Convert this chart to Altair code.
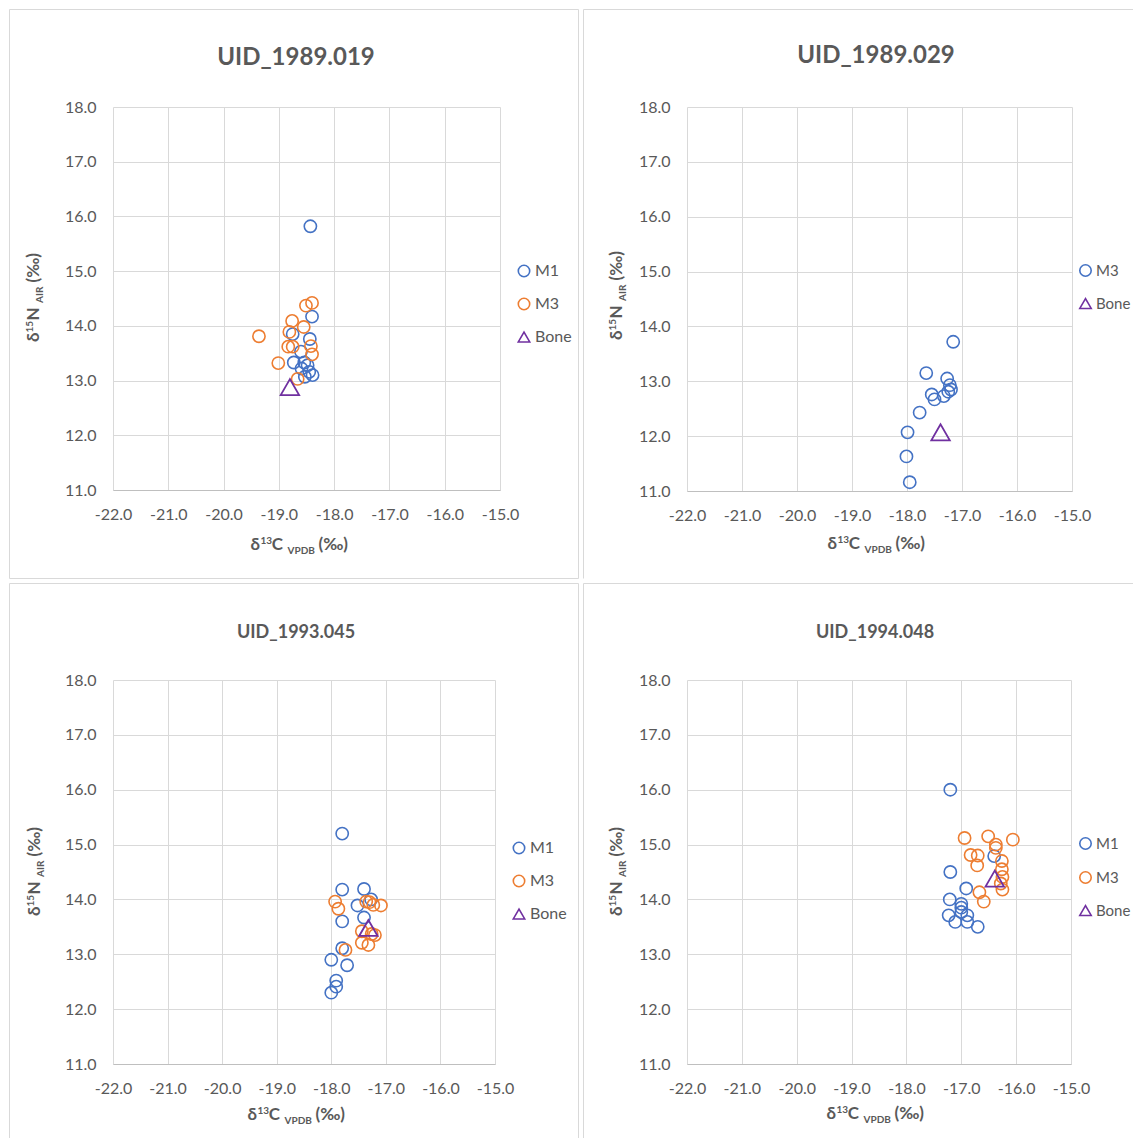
import altair as alt
import pandas as pd

BLUE = "#4472C4"
ORANGE = "#ED7D31"
PURPLE = "#7030A0"
TXT = "#595959"
FONT = "Lato"
FRAME = "#d9d9d9"

# ---------------- data ----------------
titles = ["UID_1989.019", "UID_1989.029", "UID_1993.045", "UID_1994.048"]

p1_m1_x = [-18.43, -18.40, -18.44, -18.75, -18.60, -18.73, -18.54, -18.48, -18.59, -18.45, -18.39, -18.53]
p1_m1_y = [15.82, 14.17, 13.76, 13.85, 13.53, 13.33, 13.33, 13.28, 13.22, 13.16, 13.10, 13.07]
p1_m3_x = [-18.51, -18.40, -18.76, -18.55, -18.81, -19.36, -18.83, -18.75, -18.42, -18.40, -19.01, -18.66]
p1_m3_y = [14.37, 14.42, 14.09, 13.98, 13.89, 13.81, 13.62, 13.62, 13.63, 13.48, 13.32, 13.03]
p1_bone = (-18.80, 12.88)

p2_m3_x = [-17.16, -17.65, -17.27, -17.22, -17.20, -17.25, -17.33, -17.55, -17.50, -17.77, -17.99, -18.01, -17.95]
p2_m3_y = [13.72, 13.15, 13.05, 12.93, 12.85, 12.81, 12.73, 12.76, 12.67, 12.43, 12.07, 11.63, 11.16]
p2_bone = (-17.39, 12.07)

p3_m1_x = [-17.80, -17.80, -17.40, -17.27, -17.52, -17.80, -17.40, -17.80, -18.00, -17.71, -17.91, -17.91, -18.00]
p3_m1_y = [15.20, 14.18, 14.19, 14.00, 13.89, 13.60, 13.67, 13.11, 12.90, 12.80, 12.52, 12.41, 12.30]
p3_m3_x = [-17.93, -17.87, -17.36, -17.23, -17.09, -17.30, -17.44, -17.26, -17.20, -17.44, -17.32, -17.74]
p3_m3_y = [13.96, 13.83, 13.96, 13.90, 13.89, 13.95, 13.42, 13.37, 13.35, 13.21, 13.17, 13.08]
p3_bone = (-17.32, 13.48)

p4_m1_x = [-17.20, -16.40, -17.20, -16.91, -17.21, -17.00, -17.00, -17.00, -17.23, -16.89, -17.11, -16.89, -16.70]
p4_m1_y = [16.00, 14.79, 14.50, 14.20, 14.00, 13.92, 13.85, 13.77, 13.71, 13.71, 13.59, 13.59, 13.50]
p4_m3_x = [-16.94, -16.51, -16.06, -16.37, -16.37, -16.83, -16.70, -16.71, -16.26, -16.26, -16.25, -16.28, -16.25, -16.67, -16.59]
p4_m3_y = [15.12, 15.15, 15.09, 15.00, 14.94, 14.81, 14.80, 14.62, 14.70, 14.55, 14.41, 14.29, 14.18, 14.13, 13.96]
p4_bone = (-16.39, 14.38)

x_ticks = [-22, -21, -20, -19, -18, -17, -16, -15]
y_ticks = [11, 12, 13, 14, 15, 16, 17, 18]

ONE = pd.DataFrame({"k": [0]})


def series_df(series):
    rows = []
    for name, xs, ys in series:
        for a, b in zip(xs, ys):
            rows.append({"series": name, "x": a, "y": b})
    return pd.DataFrame(rows)


def txt(text, x, y, size, angle=0, align="left", baseline="alphabetic"):
    kw = dict(text=text, font=FONT, fontSize=size, fontWeight="bold", color=TXT,
              align=align, baseline=baseline)
    if angle:
        kw["angle"] = angle
    return alt.Chart(ONE).mark_text(**kw).encode(x=alt.value(x), y=alt.value(y))


def line(x1, x2, y1, y2):
    return alt.Chart(ONE).mark_rule(color=FRAME, strokeWidth=1).encode(
        x=alt.value(x1), x2=alt.value(x2), y=alt.value(y1), y2=alt.value(y2))


def panel(title, series, bone, domain, colors, shapes, w, h, edges,
          tpos, tsize, xt, yt, lpos, lfs=16):
    df = series_df(series)
    bdf = pd.DataFrame({"series": ["Bone"], "x": [bone[0]], "y": [bone[1]]})
    xs = alt.Scale(domain=[-22, -15], nice=False, zero=False)
    ys = alt.Scale(domain=[11, 18], nice=False, zero=False)
    xaxis = alt.Axis(values=x_ticks, title=None,
                     labelExpr="datum.value < 0 ? '-' + format(-datum.value, '.1f') : format(datum.value, '.1f')",
                     grid=True, gridColor="#d9d9d9", gridWidth=1, domainColor="#bfbfbf", domainWidth=1,
                     ticks=False, tickSize=0, labelPadding=16, labelFont=FONT, labelFontSize=16,
                     labelColor=TXT, labelFlush=False, labelOverlap=False)
    yaxis = alt.Axis(values=y_ticks, title=None, labelExpr="format(datum.value, '.1f')",
                     grid=True, gridColor="#d9d9d9", gridWidth=1, domain=False,
                     ticks=False, tickSize=0, labelPadding=17, labelFont=FONT, labelFontSize=16,
                     labelColor=TXT, labelFlush=False, labelOverlap=False)
    leg = alt.Legend(title=None, orient="none", legendX=lpos[0], legendY=lpos[1],
                     labelFont=FONT, labelFontSize=lfs, labelColor=TXT, symbolSize=130,
                     symbolStrokeWidth=1.6, rowPadding=15, labelOffset=3, padding=0)
    color = alt.Color("series:N", scale=alt.Scale(domain=domain, range=colors), legend=leg)
    shape = alt.Shape("series:N", scale=alt.Scale(domain=domain, range=shapes), legend=leg)

    pts = alt.Chart(df).mark_point(filled=False, size=150, strokeWidth=1.6, opacity=1).encode(
        x=alt.X("x:Q", scale=xs, axis=xaxis), y=alt.Y("y:Q", scale=ys, axis=yaxis),
        color=color, shape=shape)
    tri = alt.Chart(bdf).mark_point(filled=False, size=340, strokeWidth=1.8, opacity=1).encode(
        x=alt.X("x:Q", scale=xs, axis=xaxis), y=alt.Y("y:Q", scale=ys, axis=yaxis),
        color=color, shape=shape)

    layers = [line(*e) for e in edges]
    layers.append(txt(title, tpos[0], tpos[1], tsize, align="center", baseline="middle"))

    # x-axis title: δ13C VPDB (‰)
    cx, cy = xt
    for t, dx, sz, dy in [("δ", -54.5, 17, 6), ("13", -44.5, 10, 0), ("C", -33.3, 17, 6),
                          ("VPDB", -17.5, 10, 10), ("(‰)", 13.5, 17, 6)]:
        layers.append(txt(t, cx + dx, cy + dy, sz))
    # y-axis title: δ15N AIR (‰) (rotated)
    ycx, ycy = yt
    for t, d, sz, bx in [("δ", 51, 17, 6), ("15", 41.5, 10, 0), ("N", 29.5, 17, 6),
                         ("AIR", 12, 10, 10), ("(‰)", -8.5, 17, 6)]:
        layers.append(txt(t, ycx + bx, ycy + d, sz, angle=270))

    layers += [pts, tri]
    return alt.layer(*layers).properties(width=w, height=h)


S3 = ["circle", "circle", "triangle-up"]
# frame edges relative to each plot origin: (x1, x2, y1, y2)
e1 = [(-103.5, 465.5, -97.5, -97.5), (-103.5, 465.5, 471.5, 471.5),
      (-103.5, -103.5, -97.5, 471.5), (465.5, 465.5, -97.5, 471.5)]
e2 = [(-103.5, 446, -97.5, -97.5), (-103.5, -103.5, -97.5, 471.5)]
e3 = [(-103.5, 465.5, -96.5, -96.5), (-103.5, -103.5, -96.5, 458),
      (465.5, 465.5, -96.5, 458)]
e4 = [(-103.5, 446, -96.5, -96.5), (-103.5, -103.5, -96.5, 458)]

p1 = panel(titles[0], [("M1", p1_m1_x, p1_m1_y), ("M3", p1_m3_x, p1_m3_y)], p1_bone,
           ["M1", "M3", "Bone"], [BLUE, ORANGE, PURPLE], S3,
           387, 383, e1, (183, -49), 24, (192, 437), (-80, 184), (403, 156))
p2 = panel(titles[1], [("M3", p2_m3_x, p2_m3_y)], p2_bone,
           ["M3", "Bone"], [BLUE, PURPLE], ["circle", "triangle-up"],
           385, 384, e2, (189, -51), 24, (195, 436), (-71, 182), (391, 156), lfs=15)
p3 = panel(titles[2], [("M1", p3_m1_x, p3_m1_y), ("M3", p3_m3_x, p3_m3_y)], p3_bone,
           ["M1", "M3", "Bone"], [BLUE, ORANGE, PURPLE], S3,
           382, 384, e3, (183, -47), 18, (189, 434), (-79, 185), (398, 160))
p4 = panel(titles[3], [("M1", p4_m1_x, p4_m1_y), ("M3", p4_m3_x, p4_m3_y)], p4_bone,
           ["M1", "M3", "Bone"], [BLUE, ORANGE, PURPLE], S3,
           384, 384, e4, (188, -47), 18, (194, 433), (-71, 185), (391, 156), lfs=15)

chart = alt.concat(p1, p2, p3, p4, columns=2, spacing={"row": 189, "column": 187},
                   bounds="flush").resolve_scale(
    color="independent", shape="independent", x="independent", y="independent"
).resolve_legend(color="independent", shape="independent").properties(
    padding={"left": 0, "top": 0, "right": 0, "bottom": 0}, background="white"
).configure_view(stroke="transparent")

chart.save("out.html", embed_options={"renderer": "svg", "actions": False})
